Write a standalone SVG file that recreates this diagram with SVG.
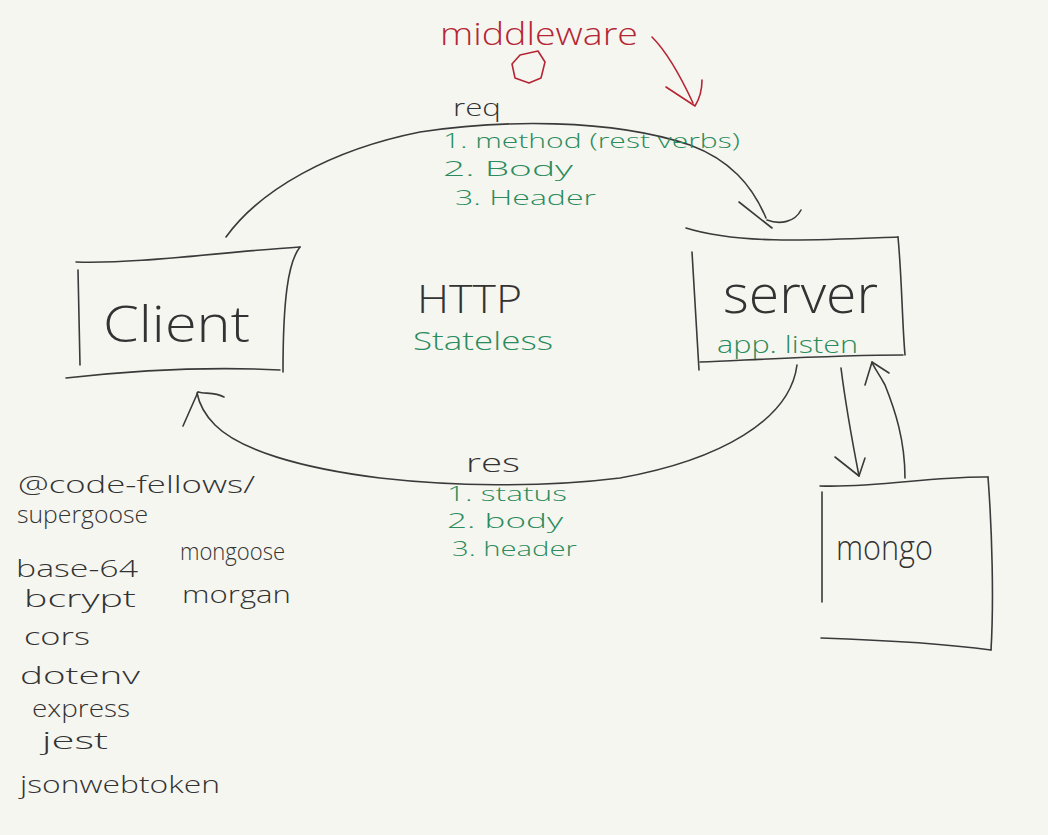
<svg xmlns="http://www.w3.org/2000/svg" width="1048" height="835" viewBox="0 0 1048 835">
<style>
.ink{fill:none;stroke:#3a3a3a;stroke-width:1.6;stroke-linecap:round;stroke-linejoin:round}
.red{fill:none;stroke:#b52634;stroke-width:1.6;stroke-linecap:round;stroke-linejoin:round}
text{font-family:"Open Sans","Liberation Sans",sans-serif;font-weight:300}
.t{fill:#333333}
.g{fill:#2a8c5c}
.r{fill:#b52634}
</style>
<rect width="1048" height="835" fill="#f6f6f1"/>

<g id="connectors">
  <path class="ink" d="M226,237 C260,190 330,150 420,132 C500,120 610,118 690,145 C730,160 752,185 766,218"/>
  <path class="ink" d="M739,202 L772,228"/>
  <path class="ink" d="M767,220 C780,225 795,222 801,210"/>
  <path class="ink" d="M797,365 C790,420 720,460 620,478 C540,488 450,486 380,478 C300,468 240,450 215,425 C205,415 199,403 197,393"/>
  <path class="ink" d="M183,426 L198,392"/>
  <path class="ink" d="M198,392 C205,394 215,392 224,397"/>
  <path class="ink" d="M841,368 C845,400 852,440 859,476"/>
  <path class="ink" d="M835,457 L859,476 L865,458"/>
  <path class="ink" d="M905,478 C905,440 895,410 885,385 C878,372 874,368 872,362"/>
  <path class="ink" d="M865,385 L872,362 L889,373"/>
  <path class="red" d="M652,37 C665,50 680,75 693,103"/>
  <path class="red" d="M666,87 L695,106 C700,98 702,88 702,80"/>
</g>

<g id="middleware">
  <text x="440" y="45" font-size="32" class="r" textLength="198" lengthAdjust="spacingAndGlyphs">middleware</text>
  <path class="red" d="M520,55 L538,51 L545,62 L541,78 L529,83 L515,78 L512,64 Z"/>
</g>

<g id="req-label">
  <text x="453" y="116" font-size="24" class="t" textLength="48" lengthAdjust="spacingAndGlyphs">req</text>
  <text x="443" y="148" font-size="21" class="g" textLength="297" lengthAdjust="spacingAndGlyphs">1. method (rest verbs)</text>
  <text x="443" y="176" font-size="21" class="g" textLength="130" lengthAdjust="spacingAndGlyphs">2. Body</text>
  <text x="455" y="205" font-size="21" class="g" textLength="141" lengthAdjust="spacingAndGlyphs">3. Header</text>
</g>

<g id="http-label">
  <text x="417" y="313" font-size="38" class="t" textLength="105" lengthAdjust="spacingAndGlyphs">HTTP</text>
  <text x="413" y="350" font-size="26" class="g" textLength="140" lengthAdjust="spacingAndGlyphs">Stateless</text>
</g>

<g id="client">
  <path class="ink" d="M76,262 C140,264 220,252 300,247"/>
  <path class="ink" d="M300,247 C288,262 283,300 283,372"/>
  <path class="ink" d="M66,378 C120,372 200,366 280,370"/>
  <path class="ink" d="M78,270 L80,365"/>
  <text x="103" y="342" font-size="50" class="t" textLength="147" lengthAdjust="spacingAndGlyphs">Client</text>
</g>

<g id="server">
  <path class="ink" d="M686,228 C740,245 820,240 898,237"/>
  <path class="ink" d="M898,237 C902,280 902,320 905,355"/>
  <path class="ink" d="M700,362 C770,359 840,355 903,355"/>
  <path class="ink" d="M692,252 L699,370"/>
  <text x="723" y="313" font-size="54" class="t" textLength="155" lengthAdjust="spacingAndGlyphs">server</text>
  <text x="717" y="353" font-size="24" class="g" textLength="141" lengthAdjust="spacingAndGlyphs">app. listen</text>
</g>

<g id="mongo">
  <path class="ink" d="M820,486 C880,488 930,476 988,477"/>
  <path class="ink" d="M988,477 C992,530 994,600 991,650"/>
  <path class="ink" d="M821,638 C880,640 940,643 991,650"/>
  <path class="ink" d="M822,492 L822,602"/>
  <text x="836" y="560" font-size="34" class="t" textLength="97" lengthAdjust="spacingAndGlyphs">mongo</text>
</g>

<g id="dependencies" class="t" font-size="23">
  <text x="18" y="493" textLength="237" lengthAdjust="spacingAndGlyphs">@code-fellows/</text>
  <text x="17" y="523" textLength="131" lengthAdjust="spacingAndGlyphs">supergoose</text>
  <text x="16" y="577" textLength="122" lengthAdjust="spacingAndGlyphs">base-64</text>
  <text x="180" y="560" textLength="105" lengthAdjust="spacingAndGlyphs">mongoose</text>
  <text x="24" y="607" textLength="112" lengthAdjust="spacingAndGlyphs">bcrypt</text>
  <text x="182" y="603" textLength="109" lengthAdjust="spacingAndGlyphs">morgan</text>
  <text x="24" y="645" textLength="66" lengthAdjust="spacingAndGlyphs">cors</text>
  <text x="20" y="684" textLength="120" lengthAdjust="spacingAndGlyphs">dotenv</text>
  <text x="32" y="717" textLength="98" lengthAdjust="spacingAndGlyphs">express</text>
  <text x="42" y="749" textLength="66" lengthAdjust="spacingAndGlyphs">jest</text>
  <text x="20" y="793" textLength="200" lengthAdjust="spacingAndGlyphs">jsonwebtoken</text>
</g>

<g id="res-label">
  <text x="466" y="472" font-size="26" class="t" textLength="54" lengthAdjust="spacingAndGlyphs">res</text>
  <text x="447" y="501" font-size="20" class="g" textLength="120" lengthAdjust="spacingAndGlyphs">1. status</text>
  <text x="447" y="528" font-size="20" class="g" textLength="116" lengthAdjust="spacingAndGlyphs">2. body</text>
  <text x="452" y="556" font-size="20" class="g" textLength="125" lengthAdjust="spacingAndGlyphs">3. header</text>
</g>
</svg>
